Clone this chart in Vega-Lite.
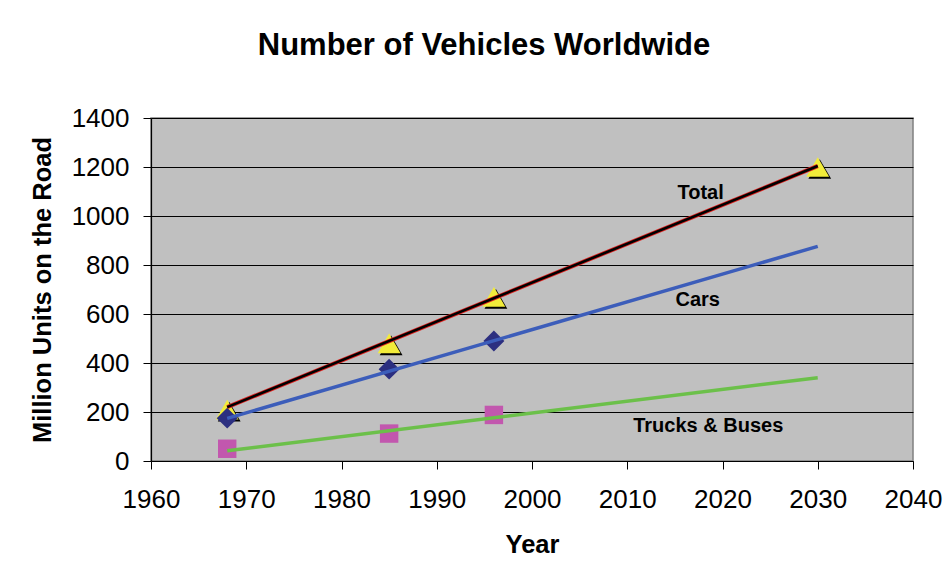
{
  "$schema": "https://vega.github.io/schema/vega-lite/v6.json",
  "width": 762,
  "height": 343,
  "autosize": {"type": "none"},
  "padding": {"left": 151, "top": 118, "right": 35, "bottom": 118},
  "background": "white",
  "title": {
    "text": "Number of Vehicles Worldwide",
    "font": "Liberation Sans",
    "fontSize": 31,
    "fontWeight": "bold",
    "color": "black",
    "anchor": "middle",
    "dx": -48,
    "offset": 43
  },
  "config": {
    "view": {"fill": "#C0C0C0", "stroke": "#808080", "strokeWidth": 1.5},
    "axis": {
      "labelFont": "Liberation Sans",
      "labelFontSize": 26,
      "labelColor": "black",
      "titleFont": "Liberation Sans",
      "titleFontSize": 25.5,
      "titleFontWeight": "bold",
      "titleColor": "black",
      "domainColor": "black",
      "domainWidth": 1.2,
      "tickColor": "black",
      "tickSize": 8,
      "tickWidth": 1,
      "labelFlush": false,
      "labelOverlap": false
    }
  },
  "datasets": {
    "points": [
      {"series": "Total", "year": 1968, "value": 210},
      {"series": "Total", "year": 1985, "value": 480},
      {"series": "Total", "year": 1996, "value": 670},
      {"series": "Total", "year": 2030, "value": 1200},
      {"series": "Cars", "year": 1968, "value": 175},
      {"series": "Cars", "year": 1985, "value": 375},
      {"series": "Cars", "year": 1996, "value": 490},
      {"series": "Trucks & Buses", "year": 1968, "value": 50},
      {"series": "Trucks & Buses", "year": 1985, "value": 112},
      {"series": "Trucks & Buses", "year": 1996, "value": 188}
    ],
    "trend": [
      {"series": "Total", "year": 1968, "value": 220},
      {"series": "Total", "year": 2030, "value": 1204},
      {"series": "Cars", "year": 1968, "value": 174},
      {"series": "Cars", "year": 2030, "value": 876},
      {"series": "Trucks & Buses", "year": 1968, "value": 42},
      {"series": "Trucks & Buses", "year": 2030, "value": 340}
    ],
    "labels": [
      {"label": "Total", "year": 2017.7, "value": 1094},
      {"label": "Cars", "year": 2017.4, "value": 657},
      {"label": "Trucks & Buses", "year": 2018.5, "value": 143}
    ]
  },
  "encoding": {
    "x": {
      "field": "year",
      "type": "quantitative",
      "scale": {"domain": [1960, 2040], "nice": false, "zero": false},
      "axis": {
        "title": "Year",
        "values": [1960, 1970, 1980, 1990, 2000, 2010, 2020, 2030, 2040],
        "format": "d",
        "grid": false,
        "labelPadding": 17,
        "titlePadding": 20
      }
    },
    "y": {
      "field": "value",
      "type": "quantitative",
      "scale": {"domain": [0, 1400], "nice": false},
      "axis": {
        "title": "Million Units on the Road",
        "values": [0, 200, 400, 600, 800, 1000, 1200, 1400],
        "format": "d",
        "grid": true,
        "gridColor": "black",
        "gridWidth": 1,
        "labelPadding": 14,
        "titlePadding": 16
      }
    }
  },
  "layer": [
    {
      "data": {"name": "points"},
      "transform": [{"filter": "datum.series === 'Total'"}],
      "mark": {"type": "point", "shape": "triangle-up", "filled": true, "color": "black", "size": 520, "opacity": 1, "xOffset": 2, "yOffset": 2}
    },
    {
      "data": {"name": "points"},
      "transform": [{"filter": "datum.series === 'Total'"}],
      "mark": {"type": "point", "shape": "triangle-up", "filled": true, "color": "#F2EC3A", "size": 520, "opacity": 1}
    },
    {
      "data": {"name": "points"},
      "transform": [{"filter": "datum.series === 'Cars'"}],
      "mark": {"type": "point", "shape": "diamond", "filled": true, "color": "#2C2F80", "size": 440, "opacity": 1}
    },
    {
      "data": {"name": "points"},
      "transform": [{"filter": "datum.series === 'Trucks & Buses'"}],
      "mark": {"type": "point", "shape": "square", "filled": true, "color": "#C257AE", "size": 340, "opacity": 1}
    },
    {
      "data": {"name": "trend"},
      "transform": [{"filter": "datum.series === 'Trucks & Buses'"}],
      "mark": {"type": "line", "color": "#6CC04A", "strokeWidth": 3.5}
    },
    {
      "data": {"name": "trend"},
      "transform": [{"filter": "datum.series === 'Cars'"}],
      "mark": {"type": "line", "color": "#3C5DBA", "strokeWidth": 3.5}
    },
    {
      "data": {"name": "trend"},
      "transform": [{"filter": "datum.series === 'Total'"}],
      "mark": {"type": "line", "color": "#E0201E", "strokeWidth": 4.2}
    },
    {
      "data": {"name": "trend"},
      "transform": [{"filter": "datum.series === 'Total'"}],
      "mark": {"type": "line", "color": "black", "strokeWidth": 2.6}
    },
    {
      "data": {"name": "labels"},
      "mark": {"type": "text", "font": "Liberation Sans", "fontSize": 20, "fontWeight": "bold", "color": "black", "align": "center", "baseline": "middle"},
      "encoding": {"text": {"field": "label"}}
    }
  ]
}
